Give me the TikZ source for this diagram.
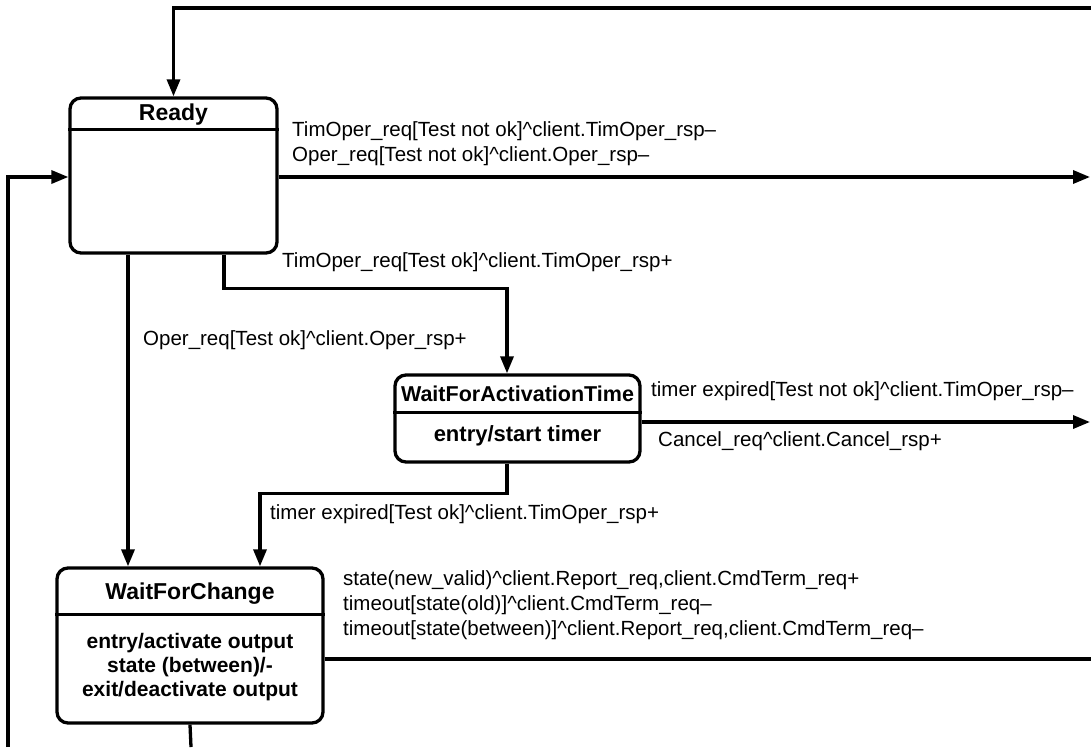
\documentclass[tikz,border=0pt]{standalone}
\usepackage{fontspec}
\setmainfont{Liberation Sans}
\usetikzlibrary{arrows.meta}

\begin{document}
\begin{tikzpicture}[x=1pt, y=-1pt]
  \tikzset{
    state_box/.style={draw, line width=3.3pt, rounded corners=11pt, inner sep=0pt},
    title_text/.style={font=\bfseries\fontsize{23}{26}\selectfont, inner sep=0pt},
    body_text/.style={font=\bfseries\fontsize{21}{24}\selectfont, align=center, inner sep=0pt},
    trans_label/.style={font=\fontsize{20.5}{24}\selectfont, anchor=west, inner sep=0pt},
    trans/.style={line width=3.3pt, -{Triangle[length=17pt, width=13pt]}},
    trans_plain/.style={line width=3.3pt}
  }

  \useasboundingbox (0,0) rectangle (1091,747);

  % Estados
  \node[state_box, minimum width=207pt, minimum height=155pt] (ready) at (173.5,175.5) {};
  \node[state_box, minimum width=245pt, minimum height=87pt] (wat) at (517.5,418.5) {};
  \node[state_box, minimum width=266pt, minimum height=155pt] (wfc) at (190,645.5) {};

  % Cabeceras y cuerpos
  \node[title_text] (ready_title) at (173.5,115) {Ready};
  \draw[trans_plain] ([yshift=-33pt]ready.north west) -- ([yshift=-33pt]ready.north east);

  \node[title_text, font=\bfseries\fontsize{21.5}{24}\selectfont] (wat_title) at (517.5,394) {WaitForActivationTime};
  \draw[trans_plain] ([yshift=-39pt]wat.north west) -- ([yshift=-39pt]wat.north east);
  \node[body_text, font=\bfseries\fontsize{22}{24}\selectfont] (wat_body) at (517.5,436) {entry/start timer};

  \node[title_text] (wfc_title) at (190,594) {WaitForChange};
  \draw[trans_plain] ([yshift=-48pt]wfc.north west) -- ([yshift=-48pt]wfc.north east);
  \node[body_text] (wfc_body) at (190,667) {entry/activate output\\state (between)/-\\exit/deactivate output};

  % Extremos libres en el borde
  \coordinate (top_right) at (1091,8);
  \coordinate (left_bottom) at (8,747);
  \coordinate (right_edge) at (1090,0);
  \coordinate (wfc_bottom) at (191,747);

  % Transiciones
  \draw[trans] (top_right) -| (ready.north);
  \draw[trans] (left_bottom) |- ([yshift=-1.5pt]ready.west);
  \draw[trans] ([yshift=-1.5pt]ready.east) -- ([yshift=-1.5pt]ready.east -| right_edge);
  \draw[trans] ([xshift=50.5pt]ready.south) -- ++(0,34) -| ([xshift=-10.5pt]wat.north);
  \draw[trans] ([xshift=-45.5pt]ready.south) -- ([xshift=-45.5pt]ready.south |- wfc.north);
  \draw[trans] ([yshift=-3.5pt]wat.east) -- ([yshift=-3.5pt]wat.east -| right_edge);
  \draw[trans] ([xshift=-10.5pt]wat.south) -- ++(0,30) -| ([xshift=70pt]wfc.north);
  \draw[trans_plain] ([yshift=-13.5pt]wfc.east) -- ([yshift=-13.5pt]wfc.east -| top_right);
  \draw[trans_plain] (wfc.south) -- (wfc_bottom);

  % Etiquetas
  \node[trans_label] (l_timoper_nok) at (292,131) {TimOper\_req[Test not ok]\textasciicircum client.TimOper\_rsp–};
  \node[trans_label] (l_oper_nok) at (292,156) {Oper\_req[Test not ok]\textasciicircum client.Oper\_rsp–};
  \node[trans_label] (l_timoper_ok) at (282,262) {TimOper\_req[Test ok]\textasciicircum client.TimOper\_rsp+};
  \node[trans_label] (l_oper_ok) at (143,340) {Oper\_req[Test ok]\textasciicircum client.Oper\_rsp+};
  \node[trans_label] (l_timer_nok) at (651,391) {timer expired[Test not ok]\textasciicircum client.TimOper\_rsp–};
  \node[trans_label] (l_cancel) at (658,441) {Cancel\_req\textasciicircum client.Cancel\_rsp+};
  \node[trans_label] (l_timer_ok) at (270,514) {timer expired[Test ok]\textasciicircum client.TimOper\_rsp+};
  \node[trans_label] (l_new_valid) at (343,580) {state(new\_valid)\textasciicircum client.Report\_req,client.CmdTerm\_req+};
  \node[trans_label] (l_old) at (343,605) {timeout[state(old)]\textasciicircum client.CmdTerm\_req–};
  \node[trans_label] (l_between) at (343,630) {timeout[state(between)]\textasciicircum client.Report\_req,client.CmdTerm\_req–};
\end{tikzpicture}
\end{document}
